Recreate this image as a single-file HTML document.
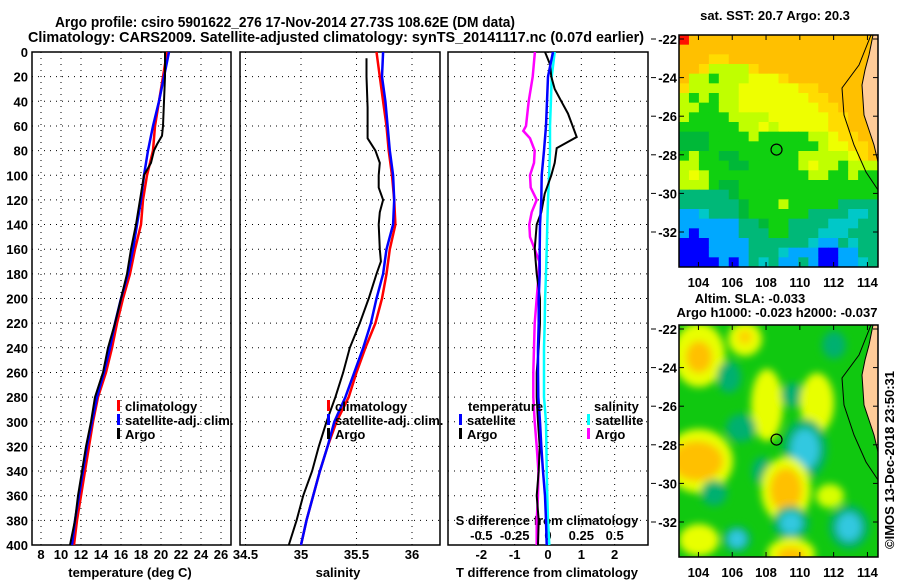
<!DOCTYPE html>
<html><head><meta charset="utf-8"><style>
html,body{margin:0;padding:0;background:#fff;width:900px;height:580px;overflow:hidden}
svg{display:block;font-family:"Liberation Sans",Arial,sans-serif;font-weight:bold}
</style></head><body>
<svg id="fig" width="900" height="580" viewBox="0 0 900 580" xmlns="http://www.w3.org/2000/svg">
<defs>
<filter id="blur" x="-20%" y="-20%" width="140%" height="140%"><feGaussianBlur stdDeviation="4"/></filter>
<clipPath id="clipTop"><rect x="679" y="35" width="199" height="232"/></clipPath>
<clipPath id="clipBot"><rect x="679" y="325" width="199" height="232"/></clipPath>
</defs>
<text x="55" y="27" font-size="15" textLength="460" lengthAdjust="spacingAndGlyphs">Argo profile: csiro 5901622_276 17-Nov-2014 27.73S 108.62E (DM data)</text>
<text x="28" y="42" font-size="15" textLength="616" lengthAdjust="spacingAndGlyphs">Climatology: CARS2009. Satellite-adjusted climatology: synTS_20141117.nc (0.07d earlier)</text>
<g id="plots"></g>
</svg>
<script>
// ---- data ----
const depthClim = [0,20,40,60,80,100,120,140,160,180,200,220,240,260,280,300,320,340,360,380,400];
const climT = [20.6,20.2,19.8,19.4,19.2,18.6,18.2,18.0,17.4,16.9,16.2,15.6,15.1,14.5,13.7,13.2,12.8,12.4,12.0,11.6,11.3];
const satT = [20.8,20.3,19.8,19.2,18.7,18.3,18.0,17.6,17.2,16.7,16.0,15.4,14.9,14.3,13.6,13.1,12.6,12.2,11.8,11.4,11.1];
const argoTDepth = [0,20,40,60,68,75,80,90,100,120,140,160,180,200,220,240,260,280,300,320,340,360,380,400];
const argoT = [20.4,20.4,20.3,20.2,20.1,19.6,19.3,19.0,18.3,17.9,17.5,17.0,16.6,16.0,15.4,14.7,14.2,13.4,13.0,12.5,12.1,11.7,11.4,10.9];
const climS = [35.68,35.71,35.74,35.77,35.79,35.82,35.84,35.85,35.80,35.77,35.73,35.67,35.58,35.50,35.43,35.32,35.24,35.17,35.11,35.05,35.0];
const satS = [35.74,35.73,35.76,35.78,35.80,35.83,35.84,35.83,35.77,35.74,35.68,35.63,35.56,35.48,35.40,35.30,35.24,35.17,35.11,35.05,35.0];
const argoSDepth = [5,20,45,70,80,90,100,110,120,130,140,160,170,180,200,220,240,260,280,300,320,340,360,380,400];
const argoS = [35.59,35.59,35.60,35.60,35.67,35.71,35.70,35.70,35.74,35.71,35.70,35.71,35.72,35.68,35.61,35.53,35.44,35.38,35.31,35.23,35.16,35.10,35.02,34.96,34.89];
const argoTdiffDepth = [0,10,20,30,40,50,69,78,90,100,115,130,140,160,180,200,220,240,260,280,300,320,340,360,380,400];
const argoTdiff = [-0.09,0.06,0.1,0.2,0.4,0.6,0.86,0.26,0.2,0.1,-0.1,-0.2,-0.34,-0.4,-0.34,-0.24,-0.24,-0.28,-0.34,-0.34,-0.3,-0.25,-0.28,-0.34,-0.28,-0.3];
const satTdiff = [0.15,0,-0.03,-0.06,-0.12,-0.19,-0.2,-0.24,-0.25,-0.25,-0.28,-0.28,-0.3,-0.3,-0.29,-0.24,-0.2,-0.15,-0.09,-0.06,-0.04];
const satSdiff = [0.05,0.028,0.022,0.015,0.015,0.008,0,-0.005,-0.01,-0.015,-0.022,-0.025,-0.03,-0.03,-0.03,-0.015,-0.012,-0.01,-0.005,0,0.01];
const argoSdiffDepth = [0,20,40,60,64,70,80,90,100,110,120,130,140,150,160,170,180,200,220,240,260,280,300,320,340,360,380,400];
const argoSdiff = [-0.098,-0.115,-0.145,-0.165,-0.185,-0.135,-0.1,-0.105,-0.135,-0.13,-0.085,-0.122,-0.14,-0.135,-0.1,-0.065,-0.07,-0.085,-0.1,-0.105,-0.11,-0.11,-0.1,-0.085,-0.072,-0.075,-0.085,-0.085];
const depthTicks = [0,20,40,60,80,100,120,140,160,180,200,220,240,260,280,300,320,340,360,380,400];
const tempTicks = [8,10,12,14,16,18,20,22,24,26];
const salTicks = [34.5,35,35.5,36];
const salTickLabels = ["34.5","35","35.5","36"];
const tdiffTicks = [-2,-1,0,1,2];
const sdiffTicks = [-0.5,-0.25,0,0.25,0.5];
const sdiffTickLabels = ["-0.5","-0.25","0","0.25","0.5"];
const sstRows = [
"ROOOOOOOOOOOOOOOOOOO",
"OOOOOOOOOOOOOOOOOOOO",
"OOOooOOOOOOOOOOOOOOO",
"OOoyyyyoOOOOOOOOOOOO",
"OyyGyyyYYYoOOOOOOOOO",
"oyyyyyYYYYYYooOOOOOO",
"yGyGyyYYYYYYYooOOOOO",
"yyGGyyYYYYYYYYooOOOO",
"yGGGGyyyyYYYYYYooOOO",
"GGGGGGyyYyYYYYYooOOO",
"gggGGGGyGGGGGyyYooOO",
"gggGGGGGGGGGGGyYYooO",
"GyGGggGGGGGGyyyyyYoO",
"yyGGGggGGGGGyYyyGyyy",
"yYyGGGGGGGGGGyyGGyGG",
"yyyGggGGGGGGGGGGGGGG",
"TTTTTgGGGGGGGGGGGGGG",
"TTTTTTgGGGyGGGGGTTTT",
"BBCTTTgGGGGGGTTTTCCT",
"BBBBBBTTgGGTTTTCCCTT",
"BDBBBBTTTGGTTTCCCTTT",
"DDDBBBBTTTTTTCBBTCTT",
"DDDBBBBTTTCBBBDDBBTT",
"DDDDBDBTCTBBTBDDBBCT"];
const lonTicks = [104,106,108,110,112,114];
const latTicks = [-22,-24,-26,-28,-30,-32];

// ---- helpers ----
const NS="http://www.w3.org/2000/svg";
const G=document.getElementById('plots');
function mk(tag,attrs,parent){const e=document.createElementNS(NS,tag);for(const k in attrs)e.setAttribute(k,attrs[k]);(parent||G).appendChild(e);return e;}
const Y0=52,Y1=545;
function yD(d){return Y0+(d/400)*(Y1-Y0);}
function xT(t){return 41+(t-8)*10;}
function xS(s){return 301+(s-35)*111;}
function xD(d){return 548+d*33.33;}
function xSD(s){return 548+s*133.3;}
function lonX(lon){return 679+(lon-102.85)*16.9;}
function latY(lat,top){return top+4+(-22-lat)*19.3;}

function panel(x0,x1,name,xticks,xf){
  const g=mk('g',{});
  
  
  for(const d of depthTicks){ if(d>0&&d<400){const l=mk('line',{x1:x0,x2:x1,y1:yD(d),y2:yD(d),stroke:'#000','stroke-width':1,'stroke-dasharray':'1,5'},g);}}
  for(const t of xticks){const x=xf(t); if(x>x0+2&&x<x1-2){const l=mk('line',{x1:x,x2:x,y1:Y0,y2:Y1,stroke:'#000','stroke-width':1,'stroke-dasharray':'1,5'},g);}}
  const r=mk('rect',{x:x0,y:Y0,width:x1-x0,height:Y1-Y0,fill:'none',stroke:'#000','stroke-width':1.5},g);
  
  
  return g;
}
function line(xs,ds,xf,color,w,name){
  const pts=xs.map((v,i)=>xf(v).toFixed(1)+','+yD(ds[i]).toFixed(1)).join(' ');
  const p=mk('polyline',{points:pts,fill:'none',stroke:color,'stroke-width':w,'stroke-linejoin':'miter'});
  
  
}
function txt(x,y,s,size,anchor,name){
  const t=mk('text',{x:x,y:y,'font-size':size,'text-anchor':anchor||'start'});
  t.textContent=s;
  
  
  return t;
}
function legend(x,y,color,label,name){
  const r=mk('rect',{x:x,y:y-6,width:3,height:11,fill:color});
  
  
  txt(x+8,y+5,label,13,'start',name+'-label');
}

// ---- panels ----
panel(32,231,'temperature-panel',tempTicks,xT);
panel(240,440,'salinity-panel',salTicks,xS);
panel(448,648,'difference-panel',tdiffTicks,xD);

for(const d of depthTicks){txt(28,yD(d)+5,String(d),13,'end','y-tick-label');}
for(const t of tempTicks){txt(xT(t),559,String(t),13,'middle','temp-tick-label');}
salTicks.forEach((s,i)=>{txt(xS(s),559,salTickLabels[i],13,'middle','salinity-tick-label');});
for(const t of tdiffTicks){txt(xD(t),559,String(t),13,'middle','tdiff-tick-label');}
sdiffTicks.forEach((s,i)=>{txt(xSD(s),540,sdiffTickLabels[i],13,'middle','sdiff-tick-label');});
txt(130,577,'temperature (deg C)',13,'middle','temperature-axis-title');
txt(338,577,'salinity',13,'middle','salinity-axis-title');
txt(547,577,'T difference from climatology',13,'middle','tdiff-axis-title');
txt(547,525,'S difference from climatology',13,'middle','sdiff-axis-title');

line(climT,depthClim,xT,'#ff0000',2.5,'temp-climatology-line');
line(satT,depthClim,xT,'#0000ff',2.5,'temp-satellite-line');
line(argoT,argoTDepth,xT,'#000',2,'temp-argo-line');
line(climS,depthClim,xS,'#ff0000',2.5,'sal-climatology-line');
line(satS,depthClim,xS,'#0000ff',2.5,'sal-satellite-line');
line(argoS,argoSDepth,xS,'#000',2,'sal-argo-line');
line(argoSdiff,argoSdiffDepth,xSD,'#ff00ff',2.5,'sdiff-argo-line');
line(satSdiff,depthClim,xSD,'#00ffff',2.5,'sdiff-satellite-line');
line(argoTdiff,argoTdiffDepth,xD,'#000',2,'tdiff-argo-line');
line(satTdiff,depthClim,xD,'#0000ff',2.5,'tdiff-satellite-line');

legend(117,406,'#ff0000','climatology','legend-climatology');
legend(117,420,'#0000ff','satellite-adj. clim.','legend-satellite-adj');
legend(117,434,'#000','Argo','legend-argo');
legend(327,406,'#ff0000','climatology','legend-sal-climatology');
legend(327,420,'#0000ff','satellite-adj. clim.','legend-sal-satellite-adj');
legend(327,434,'#000','Argo','legend-sal-argo');
txt(468,411,'temperature',13,'start','legend-temperature-heading');
legend(459,420,'#0000ff','satellite','legend-tdiff-satellite');
legend(459,434,'#000','Argo','legend-tdiff-argo');
txt(594,411,'salinity',13,'start','legend-salinity-heading');
legend(587,420,'#00ffff','satellite','legend-sdiff-satellite');
legend(587,434,'#ff00ff','Argo','legend-sdiff-argo');

// ---- maps ----
const sstColors={R:'#ff1000',O:'#ffc000',o:'#ffdc00',Y:'#eeff00',y:'#c0ff00',G:'#10d010',g:'#00b838',T:'#00b878',C:'#00c8c8',B:'#00a8ff',D:'#0000ff'};
function coast(top,g){
  const land=mk('polygon',{points:[[194,0],[199,0],[199,127],[195,110],[190,95],[185,80],[183,50],[186,35],[190,20]].map(p=>(679+p[0])+','+(top+p[1])).join(' '),fill:'#ffcc99',stroke:'#000','stroke-width':1},g);
  
  
  const c=mk('polyline',{points:[[192,0],[180,30],[163,53],[165,80],[175,110],[187,137],[199,155]].map(p=>(679+p[0])+','+(top+p[1])).join(' '),fill:'none',stroke:'#000','stroke-width':1},g);
  
  
}
function mapAxes(top,nameP){
  const f=mk('rect',{x:679,y:top,width:199,height:232,fill:'none',stroke:'#000','stroke-width':1.5});
  
  
  for(const lon of lonTicks){
    const x=lonX(lon);
    mk('line',{x1:x,x2:x,y1:top,y2:top+5,stroke:'#000'});
    mk('line',{x1:x,x2:x,y1:top+232,y2:top+227,stroke:'#000'});
    txt(x,top+252,String(lon),13,'middle',nameP+'-lon-label');
  }
  for(const lat of latTicks){
    const y=latY(lat,top);
    mk('line',{x1:651,x2:656,y1:y,y2:y,stroke:'#000'});
    mk('line',{x1:679,x2:684,y1:y,y2:y,stroke:'#000'});
    mk('line',{x1:878,x2:873,y1:y,y2:y,stroke:'#000'});
    txt(677,y+5,String(lat),13,'end',nameP+'-lat-label');
  }
  const m=mk('circle',{cx:lonX(108.62),cy:latY(-27.73,top),r:5.5,fill:'none',stroke:'#000','stroke-width':1.2});
  
  
}
const sstG=mk('g',{'clip-path':'url(#clipTop)'});


const cw=199/20,chh=232/24;
sstRows.forEach((row,r)=>{for(let c=0;c<row.length;c++){
  const cell=mk('rect',{x:679+c*cw,y:35+r*chh,width:cw+0.5,height:chh+0.5,fill:sstColors[row[c]]},sstG);
  
  
}});
coast(35,sstG);
mapAxes(35,'sst-map');
txt(775,20,'sat. SST: 20.7 Argo: 20.3',13,'middle','sst-map-title');
txt(750,303,'Altim. SLA: -0.033',13,'middle','sla-map-title');
txt(777,317,'Argo h1000: -0.023 h2000: -0.037',13,'middle','sla-map-subtitle');

const slaG=mk('g',{'clip-path':'url(#clipBot)'});


mk('rect',{x:679,y:325,width:199,height:232,fill:'#10c810'},slaG);
const blobG=mk('g',{filter:'url(#blur)'},slaG);
const blobs=[
 [20,30,26,32,'#e8ff00'],[20,32,13,16,'#ffc000'],[66,14,17,17,'#e8ff00'],[66,12,7,7,'#ffd000'],[50,52,12,16,'#00b070'],
 [88,80,16,36,'#e8ff00'],[114,70,12,12,'#00b070'],[138,78,17,30,'#e8ff00'],[62,103,15,14,'#00b070'],
 [83,146,10,14,'#00b070'],[126,124,22,30,'#00b070'],[126,124,14,20,'#30c8e0'],
 [20,136,34,32,'#e8ff00'],[18,136,26,20,'#ffc000'],[107,165,25,33,'#e8ff00'],[107,165,16,22,'#ffc000'],
 [151,171,14,12,'#d8ff00'],[112,198,18,17,'#00b070'],[112,198,11,11,'#30c8e0'],
 [170,202,20,22,'#00b070'],[170,202,12,14,'#30c8e0'],[58,214,14,13,'#00b070'],[58,214,9,9,'#30c8e0'],
 [20,215,20,16,'#e8ff00'],[112,229,24,16,'#e8ff00'],[112,231,14,9,'#ffc000'],[35,168,13,13,'#00b070'],[155,20,12,14,'#00b070']
];
for(const b of blobs){
  const e=mk('ellipse',{cx:679+b[0],cy:325+b[1],rx:b[2],ry:b[3],fill:b[4]},blobG);
  
  
}
coast(325,slaG);
mapAxes(325,'sla-map');

const cr=txt(0,0,'©IMOS 13-Dec-2018 23:50:31',13,'middle','imos-credit');
cr.setAttribute('transform','translate(894,460) rotate(-90)');
</script>
</body></html>
